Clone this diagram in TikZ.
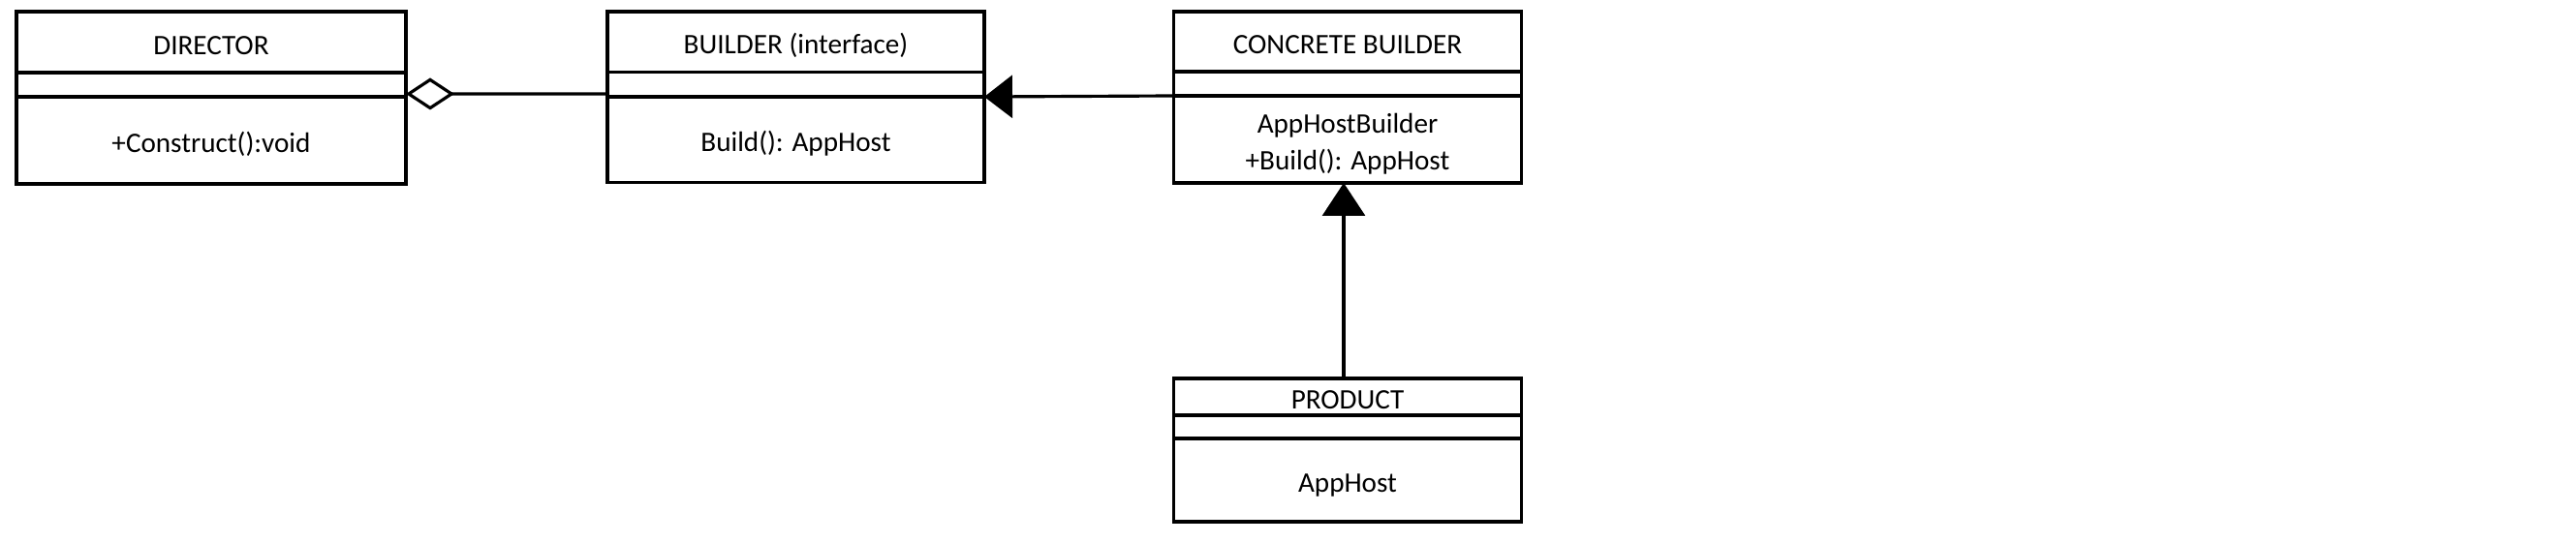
\documentclass[tikz,border=0pt]{standalone}
\usepackage{fontspec}
\setmainfont{Carlito}
\usetikzlibrary{arrows.meta,positioning}
\newcommand{\umlfont}{\fontsize{8.3}{10.8}\selectfont}

\begin{document}
\begin{tikzpicture}[line join=miter,
 classpart/.style={draw,line width=0.9pt,outer sep=0pt,inner sep=0pt,font=\umlfont,align=center},
 oneline/.style={text height=0.72em,text depth=0pt},
 twoline/.style={text height=1.8em,text depth=0pt},
 aggregate/.style={{Diamond[open,length=0.5cm,width=0.33cm]}-,line width=0.9pt},
 inherit/.style={-{Triangle[length=#1,width=0.44cm]},line width=0.9pt},
 inherit/.default=0.31cm]
 \useasboundingbox (0,0) rectangle (26.59,-5.61);
 \node[classpart,oneline,minimum width=4.02cm,minimum height=0.63cm] (dirhead) at (2.18,-0.435) {DIRECTOR};
 \node[classpart,minimum width=4.02cm,minimum height=0.25cm,below=0pt of dirhead] (dirattr) {};
 \node[classpart,oneline,minimum width=4.02cm,minimum height=0.90cm,below=0pt of dirattr] (dirops) {+Construct():void};
 \node[classpart,oneline,minimum width=3.89cm,minimum height=0.625cm] (bldhead) at (8.215,-0.4325) {BUILDER (interface)};
 \node[classpart,minimum width=3.89cm,minimum height=0.255cm,below=0pt of bldhead] (bldattr) {};
 \node[classpart,oneline,minimum width=3.89cm,minimum height=0.885cm,below=0pt of bldattr] (bldops) {Build(): AppHost};
 \node[classpart,oneline,minimum width=3.59cm,minimum height=0.62cm] (cbhead) at (13.91,-0.43) {CONCRETE BUILDER};
 \node[classpart,minimum width=3.59cm,minimum height=0.25cm,below=0pt of cbhead] (cbattr) {};
 \node[classpart,twoline,minimum width=3.59cm,minimum height=0.90cm,below=0pt of cbattr] (cbops) {AppHostBuilder\\+Build(): AppHost};
 \node[classpart,oneline,minimum width=3.59cm,minimum height=0.38cm] (prodhead) at (13.91,-4.10) {PRODUCT};
 \node[classpart,minimum width=3.59cm,minimum height=0.24cm,below=0pt of prodhead] (prodattr) {};
 \node[classpart,oneline,minimum width=3.59cm,minimum height=0.86cm,below=0pt of prodattr] (prodops) {AppHost};
 \draw[aggregate] ([yshift=0.03cm]dirattr.south east) -- ([yshift=0.03cm]bldattr.south west);
 \draw[inherit=0.29cm] (cbops.north west) -- (bldops.north east);
 \draw[inherit=0.34cm] ([xshift=-0.04cm]prodhead.north) -- ([xshift=-0.04cm]cbops.south);
\end{tikzpicture}
\end{document}
